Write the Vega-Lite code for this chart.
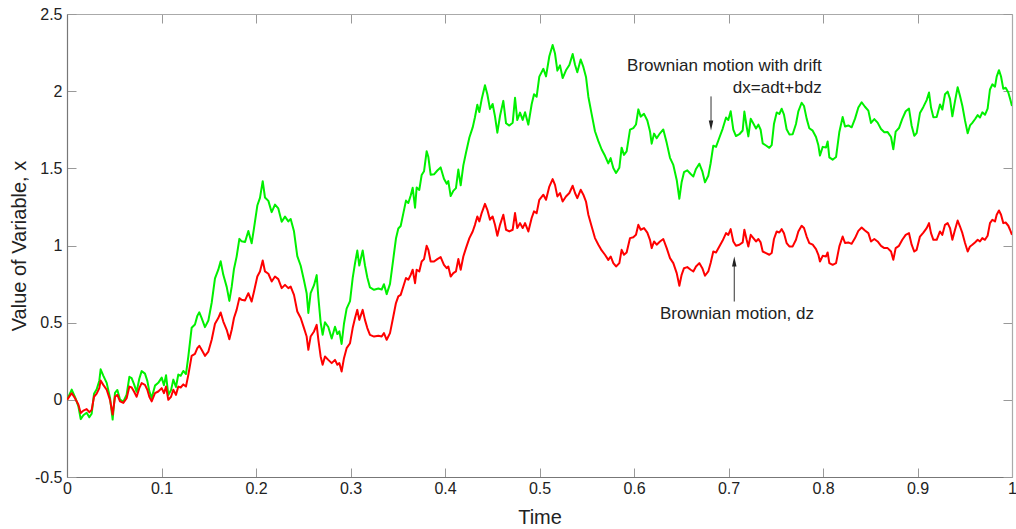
{
  "$schema": "https://vega.github.io/schema/vega-lite/v6.json",
  "width": 945,
  "height": 463,
  "autosize": {"type": "none"},
  "padding": {"left": 67, "top": 14, "right": 4, "bottom": 52},
  "background": "white",
  "config": {
    "view": {"stroke": null},
    "font": "Liberation Sans",
    "axis": {
      "grid": false,
      "labelFont": "Liberation Sans",
      "titleFont": "Liberation Sans",
      "labelFontSize": 16,
      "titleFontSize": 20,
      "labelColor": "#222222",
      "titleColor": "#222222",
      "titleFontWeight": "normal",
      "tickSize": -9,
      "tickColor": "#999999",
      "domainColor": "#777777",
      "domainWidth": 1.2,
      "labelFlush": false,
      "labelOverlap": false,
      "labelBound": false
    }
  },
  "datasets": {
    "paths": [
      {"t":0,"dz":0,"dx":0},
      {"t":0.005,"dz":0.043,"dx":0.066},
      {"t":0.0085,"dz":0.010,"dx":0.018},
      {"t":0.012,"dz":-0.030,"dx":-0.041},
      {"t":0.0145,"dz":-0.086,"dx":-0.125},
      {"t":0.0173,"dz":-0.070,"dx":-0.100},
      {"t":0.0208,"dz":-0.060,"dx":-0.084},
      {"t":0.0236,"dz":-0.080,"dx":-0.113},
      {"t":0.0261,"dz":-0.065,"dx":-0.090},
      {"t":0.0286,"dz":0.020,"dx":0.039},
      {"t":0.0314,"dz":0.040,"dx":0.069},
      {"t":0.0342,"dz":0.076,"dx":0.124},
      {"t":0.0356,"dz":0.125,"dx":0.198},
      {"t":0.0384,"dz":0.097,"dx":0.157},
      {"t":0.042,"dz":0.065,"dx":0.110},
      {"t":0.0455,"dz":0.000,"dx":0.014},
      {"t":0.0483,"dz":-0.095,"dx":-0.128},
      {"t":0.0508,"dz":0.020,"dx":0.045},
      {"t":0.0533,"dz":0.032,"dx":0.064},
      {"t":0.0561,"dz":-0.010,"dx":0.002},
      {"t":0.0596,"dz":-0.020,"dx":-0.012},
      {"t":0.0631,"dz":0.010,"dx":0.034},
      {"t":0.066,"dz":0.086,"dx":0.149},
      {"t":0.0684,"dz":0.080,"dx":0.141},
      {"t":0.0709,"dz":0.054,"dx":0.102},
      {"t":0.0737,"dz":0.020,"dx":0.052},
      {"t":0.0765,"dz":0.076,"dx":0.137},
      {"t":0.079,"dz":0.108,"dx":0.186},
      {"t":0.0825,"dz":0.097,"dx":0.170},
      {"t":0.085,"dz":0.065,"dx":0.123},
      {"t":0.0871,"dz":0.020,"dx":0.056},
      {"t":0.0896,"dz":-0.010,"dx":0.012},
      {"t":0.0931,"dz":0.043,"dx":0.092},
      {"t":0.0966,"dz":0.054,"dx":0.110},
      {"t":0.1002,"dz":0.076,"dx":0.144},
      {"t":0.1026,"dz":0.043,"dx":0.095},
      {"t":0.1048,"dz":0.086,"dx":0.160},
      {"t":0.1072,"dz":0.000,"dx":0.032},
      {"t":0.1101,"dz":0.020,"dx":0.063},
      {"t":0.1125,"dz":0.065,"dx":0.131},
      {"t":0.1153,"dz":0.032,"dx":0.083},
      {"t":0.1178,"dz":0.086,"dx":0.164},
      {"t":0.1203,"dz":0.080,"dx":0.156},
      {"t":0.1231,"dz":0.100,"dx":0.187},
      {"t":0.1259,"dz":0.086,"dx":0.167},
      {"t":0.1284,"dz":0.162,"dx":0.282},
      {"t":0.1319,"dz":0.285,"dx":0.467},
      {"t":0.1354,"dz":0.298,"dx":0.488},
      {"t":0.1379,"dz":0.335,"dx":0.544},
      {"t":0.14,"dz":0.350,"dx":0.567},
      {"t":0.1425,"dz":0.324,"dx":0.529},
      {"t":0.146,"dz":0.285,"dx":0.471},
      {"t":0.1496,"dz":0.313,"dx":0.514},
      {"t":0.1531,"dz":0.389,"dx":0.629},
      {"t":0.1566,"dz":0.493,"dx":0.787},
      {"t":0.1601,"dz":0.530,"dx":0.843},
      {"t":0.1626,"dz":0.566,"dx":0.898},
      {"t":0.1654,"dz":0.507,"dx":0.810},
      {"t":0.169,"dz":0.454,"dx":0.732},
      {"t":0.1718,"dz":0.393,"dx":0.641},
      {"t":0.1743,"dz":0.454,"dx":0.733},
      {"t":0.1767,"dz":0.530,"dx":0.848},
      {"t":0.1795,"dz":0.583,"dx":0.928},
      {"t":0.1824,"dz":0.659,"dx":1.043},
      {"t":0.1848,"dz":0.648,"dx":1.027},
      {"t":0.1884,"dz":0.644,"dx":1.023},
      {"t":0.1919,"dz":0.691,"dx":1.094},
      {"t":0.1954,"dz":0.637,"dx":1.014},
      {"t":0.1979,"dz":0.702,"dx":1.112},
      {"t":0.2014,"dz":0.799,"dx":1.259},
      {"t":0.2042,"dz":0.832,"dx":1.309},
      {"t":0.2071,"dz":0.903,"dx":1.417},
      {"t":0.2095,"dz":0.832,"dx":1.311},
      {"t":0.2131,"dz":0.817,"dx":1.289},
      {"t":0.2166,"dz":0.767,"dx":1.216},
      {"t":0.2201,"dz":0.799,"dx":1.265},
      {"t":0.2236,"dz":0.782,"dx":1.240},
      {"t":0.2272,"dz":0.724,"dx":1.154},
      {"t":0.2307,"dz":0.745,"dx":1.187},
      {"t":0.2342,"dz":0.724,"dx":1.156},
      {"t":0.2367,"dz":0.734,"dx":1.172},
      {"t":0.2402,"dz":0.680,"dx":1.092},
      {"t":0.2437,"dz":0.572,"dx":0.931},
      {"t":0.2473,"dz":0.530,"dx":0.869},
      {"t":0.2508,"dz":0.465,"dx":0.773},
      {"t":0.2536,"dz":0.410,"dx":0.691},
      {"t":0.2554,"dz":0.324,"dx":0.563},
      {"t":0.2578,"dz":0.410,"dx":0.692},
      {"t":0.2614,"dz":0.443,"dx":0.743},
      {"t":0.2642,"dz":0.486,"dx":0.808},
      {"t":0.266,"dz":0.389,"dx":0.663},
      {"t":0.2684,"dz":0.281,"dx":0.502},
      {"t":0.2705,"dz":0.227,"dx":0.422},
      {"t":0.273,"dz":0.281,"dx":0.503},
      {"t":0.2765,"dz":0.259,"dx":0.472},
      {"t":0.2801,"dz":0.238,"dx":0.397},
      {"t":0.2836,"dz":0.259,"dx":0.474},
      {"t":0.2861,"dz":0.227,"dx":0.426},
      {"t":0.2882,"dz":0.238,"dx":0.444},
      {"t":0.2906,"dz":0.183,"dx":0.362},
      {"t":0.2931,"dz":0.270,"dx":0.493},
      {"t":0.2959,"dz":0.335,"dx":0.591},
      {"t":0.2995,"dz":0.367,"dx":0.640},
      {"t":0.3023,"dz":0.465,"dx":0.788},
      {"t":0.3048,"dz":0.530,"dx":0.886},
      {"t":0.3072,"dz":0.583,"dx":0.967},
      {"t":0.3093,"dz":0.518,"dx":0.870},
      {"t":0.3129,"dz":0.583,"dx":0.968},
      {"t":0.3153,"dz":0.518,"dx":0.872},
      {"t":0.3178,"dz":0.465,"dx":0.793},
      {"t":0.3206,"dz":0.421,"dx":0.728},
      {"t":0.3249,"dz":0.410,"dx":0.713},
      {"t":0.3295,"dz":0.415,"dx":0.721},
      {"t":0.333,"dz":0.410,"dx":0.715},
      {"t":0.3354,"dz":0.432,"dx":0.749},
      {"t":0.3383,"dz":0.389,"dx":0.685},
      {"t":0.3418,"dz":0.432,"dx":0.751},
      {"t":0.3453,"dz":0.540,"dx":0.914},
      {"t":0.3481,"dz":0.627,"dx":1.045},
      {"t":0.3506,"dz":0.670,"dx":1.110},
      {"t":0.3531,"dz":0.680,"dx":1.126},
      {"t":0.3559,"dz":0.734,"dx":1.208},
      {"t":0.3587,"dz":0.789,"dx":1.291},
      {"t":0.3612,"dz":0.778,"dx":1.275},
      {"t":0.3637,"dz":0.810,"dx":1.324},
      {"t":0.3658,"dz":0.843,"dx":1.374},
      {"t":0.3683,"dz":0.756,"dx":1.245},
      {"t":0.37,"dz":0.843,"dx":1.376},
      {"t":0.3728,"dz":0.832,"dx":1.360},
      {"t":0.3753,"dz":0.896,"dx":1.457},
      {"t":0.3778,"dz":0.912,"dx":1.481},
      {"t":0.3806,"dz":0.998,"dx":1.611},
      {"t":0.3824,"dz":0.972,"dx":1.573},
      {"t":0.3848,"dz":0.896,"dx":1.459},
      {"t":0.3884,"dz":0.896,"dx":1.461},
      {"t":0.3919,"dz":0.912,"dx":1.486},
      {"t":0.3954,"dz":0.925,"dx":1.506},
      {"t":0.3989,"dz":0.875,"dx":1.432},
      {"t":0.4018,"dz":0.853,"dx":1.400},
      {"t":0.4035,"dz":0.864,"dx":1.417},
      {"t":0.406,"dz":0.799,"dx":1.320},
      {"t":0.4088,"dz":0.821,"dx":1.354},
      {"t":0.4116,"dz":0.832,"dx":1.372},
      {"t":0.4141,"dz":0.912,"dx":1.492},
      {"t":0.4166,"dz":0.843,"dx":1.390},
      {"t":0.4194,"dz":0.929,"dx":1.519},
      {"t":0.4222,"dz":0.983,"dx":1.601},
      {"t":0.4258,"dz":1.048,"dx":1.700},
      {"t":0.4293,"dz":1.091,"dx":1.765},
      {"t":0.4317,"dz":1.134,"dx":1.831},
      {"t":0.4342,"dz":1.188,"dx":1.912},
      {"t":0.4363,"dz":1.156,"dx":1.865},
      {"t":0.4388,"dz":1.210,"dx":1.947},
      {"t":0.4423,"dz":1.270,"dx":2.038},
      {"t":0.4448,"dz":1.231,"dx":1.980},
      {"t":0.4476,"dz":1.167,"dx":1.885},
      {"t":0.4504,"dz":1.188,"dx":1.917},
      {"t":0.4529,"dz":1.134,"dx":1.837},
      {"t":0.4554,"dz":1.063,"dx":1.731},
      {"t":0.4582,"dz":1.134,"dx":1.839},
      {"t":0.4617,"dz":1.199,"dx":1.937},
      {"t":0.4646,"dz":1.102,"dx":1.792},
      {"t":0.4681,"dz":1.091,"dx":1.777},
      {"t":0.4716,"dz":1.102,"dx":1.795},
      {"t":0.4741,"dz":1.210,"dx":1.957},
      {"t":0.4765,"dz":1.113,"dx":1.813},
      {"t":0.4794,"dz":1.145,"dx":1.861},
      {"t":0.4822,"dz":1.113,"dx":1.814},
      {"t":0.4847,"dz":1.145,"dx":1.863},
      {"t":0.4882,"dz":1.091,"dx":1.783},
      {"t":0.4917,"dz":1.178,"dx":1.915},
      {"t":0.4942,"dz":1.221,"dx":1.980},
      {"t":0.497,"dz":1.210,"dx":1.964},
      {"t":0.4998,"dz":1.296,"dx":2.094},
      {"t":0.5041,"dz":1.329,"dx":2.145},
      {"t":0.5069,"dz":1.296,"dx":2.096},
      {"t":0.5104,"dz":1.382,"dx":2.226},
      {"t":0.5139,"dz":1.430,"dx":2.299},
      {"t":0.5164,"dz":1.393,"dx":2.244},
      {"t":0.5189,"dz":1.318,"dx":2.133},
      {"t":0.5217,"dz":1.340,"dx":2.167},
      {"t":0.5245,"dz":1.285,"dx":2.085},
      {"t":0.528,"dz":1.318,"dx":2.135},
      {"t":0.5316,"dz":1.340,"dx":2.170},
      {"t":0.5351,"dz":1.387,"dx":2.241},
      {"t":0.5376,"dz":1.340,"dx":2.171},
      {"t":0.54,"dz":1.307,"dx":2.123},
      {"t":0.5436,"dz":1.361,"dx":2.205},
      {"t":0.5464,"dz":1.329,"dx":2.157},
      {"t":0.5492,"dz":1.285,"dx":2.092},
      {"t":0.5517,"dz":1.199,"dx":1.964},
      {"t":0.5552,"dz":1.123,"dx":1.851},
      {"t":0.5587,"dz":1.048,"dx":1.740},
      {"t":0.5623,"dz":1.005,"dx":1.676},
      {"t":0.5658,"dz":0.968,"dx":1.622},
      {"t":0.5693,"dz":0.940,"dx":1.581},
      {"t":0.5728,"dz":0.907,"dx":1.532},
      {"t":0.5753,"dz":0.929,"dx":1.566},
      {"t":0.5781,"dz":0.886,"dx":1.502},
      {"t":0.581,"dz":0.864,"dx":1.470},
      {"t":0.5845,"dz":0.886,"dx":1.504},
      {"t":0.5869,"dz":0.972,"dx":1.634},
      {"t":0.5894,"dz":0.940,"dx":1.587},
      {"t":0.5922,"dz":0.955,"dx":1.610},
      {"t":0.5958,"dz":1.048,"dx":1.751},
      {"t":0.5993,"dz":1.054,"dx":1.761},
      {"t":0.6021,"dz":1.069,"dx":1.784},
      {"t":0.6046,"dz":1.134,"dx":1.882},
      {"t":0.6071,"dz":1.102,"dx":1.835},
      {"t":0.6106,"dz":1.113,"dx":1.853},
      {"t":0.6141,"dz":1.084,"dx":1.810},
      {"t":0.6169,"dz":1.037,"dx":1.741},
      {"t":0.6187,"dz":0.983,"dx":1.660},
      {"t":0.6212,"dz":1.026,"dx":1.725},
      {"t":0.624,"dz":1.005,"dx":1.695},
      {"t":0.6275,"dz":1.026,"dx":1.727},
      {"t":0.631,"dz":1.042,"dx":1.752},
      {"t":0.6346,"dz":0.983,"dx":1.665},
      {"t":0.6381,"dz":0.918,"dx":1.568},
      {"t":0.6416,"dz":0.886,"dx":1.522},
      {"t":0.6452,"dz":0.821,"dx":1.425},
      {"t":0.648,"dz":0.739,"dx":1.303},
      {"t":0.6504,"dz":0.810,"dx":1.410},
      {"t":0.6529,"dz":0.853,"dx":1.475},
      {"t":0.6564,"dz":0.860,"dx":1.487},
      {"t":0.66,"dz":0.843,"dx":1.463},
      {"t":0.6628,"dz":0.832,"dx":1.447},
      {"t":0.6656,"dz":0.864,"dx":1.496},
      {"t":0.6691,"dz":0.886,"dx":1.530},
      {"t":0.6723,"dz":0.853,"dx":1.481},
      {"t":0.6751,"dz":0.804,"dx":1.409},
      {"t":0.6786,"dz":0.832,"dx":1.452},
      {"t":0.6811,"dz":0.886,"dx":1.533},
      {"t":0.6839,"dz":0.961,"dx":1.647},
      {"t":0.6868,"dz":0.955,"dx":1.639},
      {"t":0.6903,"dz":0.994,"dx":1.698},
      {"t":0.6938,"dz":1.032,"dx":1.756},
      {"t":0.6974,"dz":1.080,"dx":1.829},
      {"t":0.6998,"dz":1.069,"dx":1.813},
      {"t":0.7023,"dz":1.106,"dx":1.870},
      {"t":0.7051,"dz":1.026,"dx":1.751},
      {"t":0.7079,"dz":0.998,"dx":1.709},
      {"t":0.7115,"dz":1.005,"dx":1.721},
      {"t":0.715,"dz":1.020,"dx":1.745},
      {"t":0.7168,"dz":1.102,"dx":1.868},
      {"t":0.7192,"dz":1.037,"dx":1.771},
      {"t":0.721,"dz":0.994,"dx":1.707},
      {"t":0.7235,"dz":1.069,"dx":1.821},
      {"t":0.7263,"dz":1.048,"dx":1.790},
      {"t":0.7291,"dz":1.026,"dx":1.758},
      {"t":0.7316,"dz":1.042,"dx":1.783},
      {"t":0.734,"dz":1.020,"dx":1.750},
      {"t":0.7362,"dz":0.961,"dx":1.662},
      {"t":0.7397,"dz":0.951,"dx":1.648},
      {"t":0.7432,"dz":0.940,"dx":1.633},
      {"t":0.7457,"dz":0.951,"dx":1.650},
      {"t":0.7481,"dz":1.042,"dx":1.787},
      {"t":0.751,"dz":1.091,"dx":1.862},
      {"t":0.7538,"dz":1.084,"dx":1.852},
      {"t":0.7563,"dz":1.106,"dx":1.886},
      {"t":0.7587,"dz":1.080,"dx":1.848},
      {"t":0.7615,"dz":1.016,"dx":1.753},
      {"t":0.7644,"dz":0.994,"dx":1.720},
      {"t":0.7679,"dz":0.994,"dx":1.721},
      {"t":0.7714,"dz":1.037,"dx":1.787},
      {"t":0.7739,"dz":1.091,"dx":1.869},
      {"t":0.7774,"dz":1.128,"dx":1.925},
      {"t":0.7799,"dz":1.113,"dx":1.904},
      {"t":0.7827,"dz":1.058,"dx":1.822},
      {"t":0.7855,"dz":1.016,"dx":1.760},
      {"t":0.7891,"dz":1.005,"dx":1.744},
      {"t":0.7926,"dz":0.977,"dx":1.703},
      {"t":0.7951,"dz":0.940,"dx":1.649},
      {"t":0.7968,"dz":0.896,"dx":1.583},
      {"t":0.7997,"dz":0.933,"dx":1.639},
      {"t":0.8032,"dz":0.929,"dx":1.635},
      {"t":0.8049,"dz":0.955,"dx":1.674},
      {"t":0.8067,"dz":0.886,"dx":1.571},
      {"t":0.8102,"dz":0.875,"dx":1.556},
      {"t":0.8138,"dz":0.886,"dx":1.573},
      {"t":0.8173,"dz":0.994,"dx":1.736},
      {"t":0.8208,"dz":1.058,"dx":1.833},
      {"t":0.8233,"dz":1.016,"dx":1.771},
      {"t":0.8268,"dz":1.020,"dx":1.778},
      {"t":0.8303,"dz":1.011,"dx":1.766},
      {"t":0.8339,"dz":1.048,"dx":1.822},
      {"t":0.8374,"dz":1.095,"dx":1.894},
      {"t":0.8409,"dz":1.117,"dx":1.928},
      {"t":0.8444,"dz":1.097,"dx":1.899},
      {"t":0.848,"dz":1.080,"dx":1.874},
      {"t":0.8508,"dz":1.026,"dx":1.794},
      {"t":0.8543,"dz":1.042,"dx":1.819},
      {"t":0.8578,"dz":1.026,"dx":1.796},
      {"t":0.8614,"dz":0.998,"dx":1.755},
      {"t":0.8649,"dz":0.983,"dx":1.734},
      {"t":0.8684,"dz":0.983,"dx":1.735},
      {"t":0.872,"dz":0.961,"dx":1.703},
      {"t":0.8744,"dz":0.907,"dx":1.623},
      {"t":0.8769,"dz":0.983,"dx":1.738},
      {"t":0.8804,"dz":0.998,"dx":1.761},
      {"t":0.8839,"dz":1.037,"dx":1.821},
      {"t":0.8875,"dz":1.069,"dx":1.870},
      {"t":0.891,"dz":1.080,"dx":1.887},
      {"t":0.8938,"dz":1.005,"dx":1.776},
      {"t":0.8966,"dz":0.961,"dx":1.711},
      {"t":0.8991,"dz":0.972,"dx":1.728},
      {"t":0.9026,"dz":1.058,"dx":1.858},
      {"t":0.9062,"dz":1.084,"dx":1.898},
      {"t":0.9097,"dz":1.113,"dx":1.942},
      {"t":0.9122,"dz":1.145,"dx":1.991},
      {"t":0.9143,"dz":1.080,"dx":1.894},
      {"t":0.9168,"dz":1.037,"dx":1.831},
      {"t":0.9203,"dz":1.037,"dx":1.832},
      {"t":0.9238,"dz":1.091,"dx":1.914},
      {"t":0.9263,"dz":1.069,"dx":1.881},
      {"t":0.9291,"dz":1.134,"dx":1.980},
      {"t":0.9319,"dz":1.145,"dx":1.997},
      {"t":0.9344,"dz":1.113,"dx":1.950},
      {"t":0.9369,"dz":1.037,"dx":1.837},
      {"t":0.9397,"dz":1.102,"dx":1.935},
      {"t":0.9425,"dz":1.162,"dx":2.026},
      {"t":0.945,"dz":1.123,"dx":1.968},
      {"t":0.9475,"dz":1.080,"dx":1.904},
      {"t":0.9503,"dz":1.016,"dx":1.809},
      {"t":0.9531,"dz":0.961,"dx":1.727},
      {"t":0.9556,"dz":0.994,"dx":1.778},
      {"t":0.958,"dz":1.005,"dx":1.795},
      {"t":0.9608,"dz":1.020,"dx":1.818},
      {"t":0.9637,"dz":1.037,"dx":1.845},
      {"t":0.9661,"dz":1.026,"dx":1.829},
      {"t":0.9686,"dz":1.048,"dx":1.863},
      {"t":0.9714,"dz":1.037,"dx":1.847},
      {"t":0.9742,"dz":1.063,"dx":1.887},
      {"t":0.9767,"dz":1.145,"dx":2.011},
      {"t":0.9792,"dz":1.167,"dx":2.044},
      {"t":0.982,"dz":1.156,"dx":2.029},
      {"t":0.9838,"dz":1.199,"dx":2.094},
      {"t":0.9862,"dz":1.227,"dx":2.136},
      {"t":0.9884,"dz":1.199,"dx":2.095},
      {"t":0.9908,"dz":1.145,"dx":2.015},
      {"t":0.9933,"dz":1.149,"dx":2.022},
      {"t":0.9961,"dz":1.128,"dx":1.991},
      {"t":0.9979,"dz":1.102,"dx":1.952},
      {"t":1.0,"dz":1.069,"dx":1.904}
    ]
  },
  "resolve": {"axis": {"x": "independent", "y": "independent"}},
  "layer": [
    {
      "data": {"name": "paths"},
      "mark": {"type": "line", "color": "#00f000", "strokeWidth": 2, "strokeJoin": "round", "clip": true},
      "encoding": {
        "x": {
          "field": "t", "type": "quantitative",
          "scale": {"domain": [0, 1], "nice": false, "zero": false},
          "axis": {
            "orient": "bottom", "title": "Time",
            "values": [0, 0.1, 0.2, 0.3, 0.4, 0.5, 0.6, 0.7, 0.8, 0.9, 1],
            "labelExpr": "datum.value + ''",
            "labelPadding": 12, "titlePadding": 11
          }
        },
        "y": {
          "field": "dx", "type": "quantitative",
          "scale": {"domain": [-0.5, 2.5], "nice": false, "zero": false},
          "axis": {
            "orient": "left", "title": "Value of Variable, x",
            "values": [-0.5, 0, 0.5, 1, 1.5, 2, 2.5],
            "labelExpr": "datum.value + ''",
            "labelPadding": 14, "titlePadding": 5
          }
        }
      }
    },
    {
      "data": {"name": "paths"},
      "mark": {"type": "line", "color": "#ff0000", "strokeWidth": 2, "strokeJoin": "round", "clip": true},
      "encoding": {
        "x": {
          "field": "t", "type": "quantitative",
          "axis": {
            "orient": "top", "title": null, "labels": false,
            "values": [0, 0.1, 0.2, 0.3, 0.4, 0.5, 0.6, 0.7, 0.8, 0.9, 1],
            "domainColor": "#aaaaaa"
          }
        },
        "y": {
          "field": "dz", "type": "quantitative",
          "axis": {
            "orient": "right", "title": null, "labels": false,
            "values": [-0.5, 0, 0.5, 1, 1.5, 2, 2.5],
            "domainColor": "#aaaaaa"
          }
        }
      }
    },
    {
      "data": {"values": [
        {"t": 0.6815, "from": 1.966, "to": 1.775},
        {"t": 0.7061, "from": 0.637, "to": 0.900}
      ]},
      "mark": {"type": "rule", "color": "#333333", "strokeWidth": 1},
      "encoding": {
        "x": {"field": "t", "type": "quantitative", "axis": null},
        "y": {"field": "from", "type": "quantitative", "axis": null},
        "y2": {"field": "to"}
      }
    },
    {
      "data": {"values": [{"t": 0.6815, "v": 1.778}]},
      "mark": {"type": "point", "shape": "M0,1L-0.45,-1L0.45,-1Z", "filled": true, "color": "#222222", "opacity": 1, "size": 100},
      "encoding": {
        "x": {"field": "t", "type": "quantitative", "axis": null},
        "y": {"field": "v", "type": "quantitative", "axis": null}
      }
    },
    {
      "data": {"values": [{"t": 0.7061, "v": 0.896}]},
      "mark": {"type": "point", "shape": "M0,-1L-0.45,1L0.45,1Z", "filled": true, "color": "#222222", "opacity": 1, "size": 100},
      "encoding": {
        "x": {"field": "t", "type": "quantitative", "axis": null},
        "y": {"field": "v", "type": "quantitative", "axis": null}
      }
    },
    {
      "data": {"values": [
        {"t": 0.7986, "v": 2.132, "label": "Brownian motion with drift"},
        {"t": 0.7986, "v": 1.990, "label": "dx=adt+bdz"}
      ]},
      "mark": {"type": "text", "align": "right", "baseline": "alphabetic", "fontSize": 17, "font": "Liberation Sans", "color": "#222222"},
      "encoding": {
        "x": {"field": "t", "type": "quantitative", "axis": null},
        "y": {"field": "v", "type": "quantitative", "axis": null},
        "text": {"field": "label"}
      }
    },
    {
      "data": {"values": [
        {"t": 0.709, "v": 0.525, "label": "Brownian motion, dz"}
      ]},
      "mark": {"type": "text", "align": "center", "baseline": "alphabetic", "fontSize": 17, "font": "Liberation Sans", "color": "#222222"},
      "encoding": {
        "x": {"field": "t", "type": "quantitative", "axis": null},
        "y": {"field": "v", "type": "quantitative", "axis": null},
        "text": {"field": "label"}
      }
    }
  ]
}
